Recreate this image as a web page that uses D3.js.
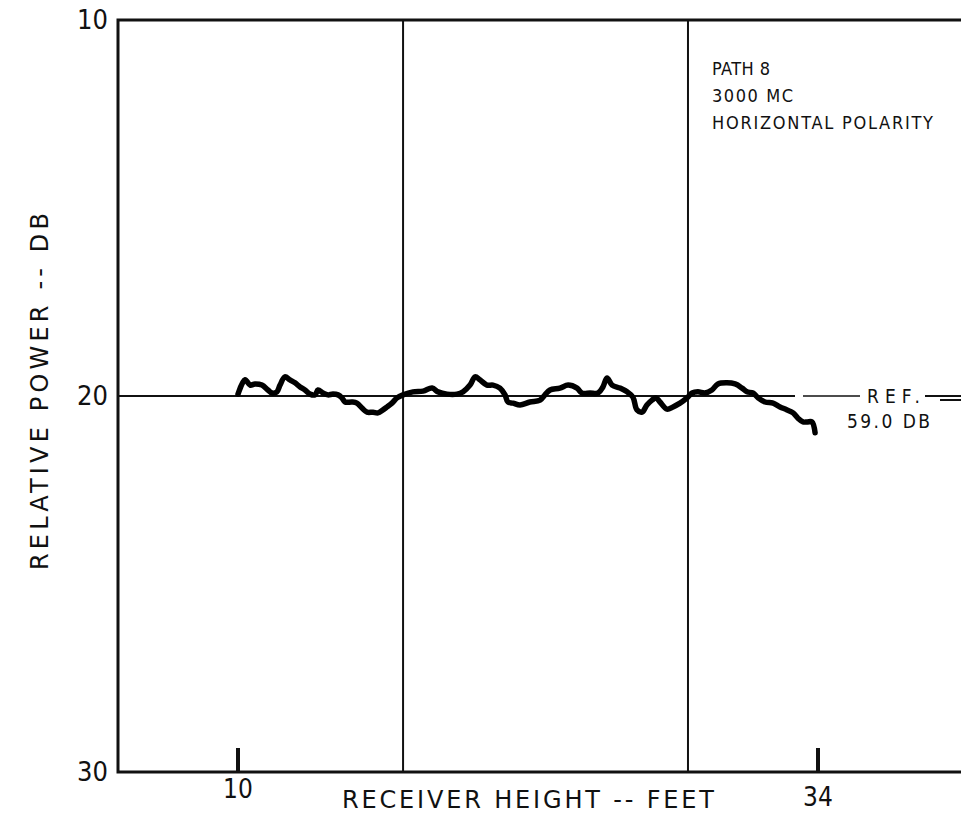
<!DOCTYPE html>
<html>
<head>
<meta charset="utf-8">
<script src="https://cdn.jsdelivr.net/npm/d3@7"></script>
<style>
    body { margin: 0; background: #fff; }
    text { font-family: 'DejaVu Sans Condensed', 'DejaVu Sans', sans-serif; fill: #111; }
    text.title { font-family: 'DejaVu Sans', sans-serif; }
</style>
</head>
<body>
<svg id="chart" width="961" height="818"></svg>
<script>
// receiver height (feet) and relative power (dB)
const heights = [10.00, 10.29, 10.50, 10.70, 10.99, 11.24, 11.41, 11.61, 11.74, 11.94, 12.15, 12.36, 12.57, 12.77, 12.98,
    13.19, 13.31, 13.52, 13.72, 13.93, 14.14, 14.30, 14.43, 14.72, 14.92, 15.13, 15.34, 15.59, 15.79, 16.00, 16.17,
    16.37, 16.58, 16.83, 17.24, 17.66, 18.03, 18.28, 18.65, 19.06, 19.31, 19.60, 19.81, 20.01, 20.30, 20.55, 20.84,
    21.05, 21.17, 21.38, 21.67, 22.08, 22.50, 22.70, 22.91, 23.32, 23.66, 24.03, 24.23, 24.57, 24.90, 25.10, 25.27,
    25.48, 25.81, 26.10, 26.34, 26.51, 26.72, 26.92, 27.13, 27.30, 27.46, 27.75, 28.00, 28.29, 28.58, 28.79, 29.03,
    29.32, 29.61, 29.86, 30.23, 30.57, 30.86, 31.06, 31.31, 31.52, 31.81, 32.14, 32.43, 32.72, 32.97, 33.17, 33.38,
    33.55, 33.75, 33.88];
const power = [19.95, 19.57, 19.71, 19.68, 19.71, 19.84, 19.92, 19.89, 19.71, 19.49, 19.57, 19.65, 19.76, 19.84, 19.95,
    19.97, 19.84, 19.92, 19.97, 19.95, 19.97, 20.05, 20.16, 20.16, 20.19, 20.32, 20.43, 20.43, 20.45, 20.37, 20.29,
    20.19, 20.05, 19.97, 19.89, 19.87, 19.79, 19.89, 19.95, 19.95, 19.89, 19.71, 19.49, 19.57, 19.71, 19.71, 19.79,
    19.97, 20.16, 20.19, 20.24, 20.16, 20.11, 19.97, 19.84, 19.79, 19.71, 19.79, 19.92, 19.92, 19.92, 19.76, 19.52,
    19.71, 19.79, 19.89, 20.03, 20.37, 20.43, 20.24, 20.11, 20.05, 20.16, 20.35, 20.29, 20.19, 20.05, 19.92, 19.89,
    19.92, 19.84, 19.68, 19.65, 19.68, 19.79, 19.89, 19.92, 20.05, 20.16, 20.19, 20.29, 20.37, 20.45, 20.59, 20.69,
    20.69, 20.69, 20.98];

const xTicks = [10, 34];
const yTicks = [10, 20, 30];
const gridHeights = [16.83, 28.62];
const refLevel = 20;
const notes = ['PATH 8', '3000 MC', 'HORIZONTAL POLARITY'];
const noteWidths = [58, 81, 221];

const svg = d3.select('#chart');
const frameLeft = 118, frameRight = 961, frameTop = 20, frameBottom = 772;

const x = d3.scaleLinear().domain([10, 34]).range([238, 818]);
const y = d3.scaleLinear().domain([10, 30]).range([frameTop, frameBottom]);

// grid lines
svg.selectAll('.grid')
    .data(gridHeights)
    .enter()
    .append('line')
    .attr('x1', d => x(d)).attr('x2', d => x(d))
    .attr('y1', frameTop).attr('y2', frameBottom)
    .style('stroke', '#111').style('stroke-width', 2);

// reference level line, broken for the label
const ry = y(refLevel);
svg.append('line').attr('x1', frameLeft).attr('x2', 795).attr('y1', ry).attr('y2', ry)
    .style('stroke', '#111').style('stroke-width', 2);
svg.append('line').attr('x1', 803).attr('x2', 860).attr('y1', ry).attr('y2', ry)
    .style('stroke', '#111').style('stroke-width', 1.5);
svg.append('line').attr('x1', 925).attr('x2', frameRight).attr('y1', ry).attr('y2', ry)
    .style('stroke', '#111').style('stroke-width', 2);
svg.append('line').attr('x1', 940).attr('x2', frameRight).attr('y1', ry + 4).attr('y2', ry + 4)
    .style('stroke', '#111').style('stroke-width', 2);
svg.append('text').attr('x', 867).attr('y', ry + 7).text('REF.')
    .style('font-size', '19px').attr('textLength', 53).attr('lengthAdjust', 'spacing');
svg.append('text').attr('x', 847).attr('y', ry + 32).text('59.0 DB')
    .style('font-size', '19px').attr('textLength', 83).attr('lengthAdjust', 'spacing');

// frame
svg.append('path')
    .attr('d', `M${frameRight},${frameTop}H${frameLeft}V${frameBottom}H${frameRight}`)
    .style('fill', 'none').style('stroke', '#111').style('stroke-width', 3);

// bold x ticks
svg.selectAll('.xtick')
    .data(xTicks)
    .enter()
    .append('line')
    .attr('x1', d => x(d)).attr('x2', d => x(d))
    .attr('y1', frameBottom - 24).attr('y2', frameBottom)
    .style('stroke', '#111').style('stroke-width', 4);

svg.selectAll('.xlabel')
    .data(xTicks)
    .enter()
    .append('text')
    .attr('x', d => x(d))
    .attr('y', (d, i) => frameBottom + 26 + i * 8)
    .attr('text-anchor', 'middle')
    .style('font-size', '26px')
    .text(d => d);

svg.selectAll('.ylabel')
    .data(yTicks)
    .enter()
    .append('text')
    .attr('x', frameLeft - 10)
    .attr('y', d => y(d) + 9)
    .attr('text-anchor', 'end')
    .style('font-size', '27px')
    .text(d => d);

// axis titles
svg.append('text')
    .attr('class', 'title')
    .attr('x', 342).attr('y', 808)
    .style('font-size', '24px')
    .attr('textLength', 372).attr('lengthAdjust', 'spacing')
    .text('RECEIVER HEIGHT -- FEET');

svg.append('text')
    .attr('class', 'title')
    .attr('transform', 'translate(48 570) rotate(-90)')
    .style('font-size', '24px')
    .attr('textLength', 357).attr('lengthAdjust', 'spacing')
    .text('RELATIVE POWER -- DB');

// notes
svg.selectAll('.note')
    .data(notes)
    .enter()
    .append('text')
    .attr('x', 712)
    .attr('y', (d, i) => 75 + i * 27)
    .style('font-size', '18px')
    .attr('textLength', (d, i) => noteWidths[i])
    .attr('lengthAdjust', 'spacing')
    .text(d => d);

// the record
const points = heights.map((h, i) => [h, power[i]]);
const line = d3.line()
    .x(d => x(d[0]))
    .y(d => y(d[1]))
    .curve(d3.curveCatmullRom);

svg.append('path')
    .datum(points)
    .attr('d', line)
    .style('fill', 'none')
    .style('stroke', '#000')
    .style('stroke-width', 5.5)
    .style('stroke-linejoin', 'round')
    .style('stroke-linecap', 'round');
</script>
</body>
</html>
